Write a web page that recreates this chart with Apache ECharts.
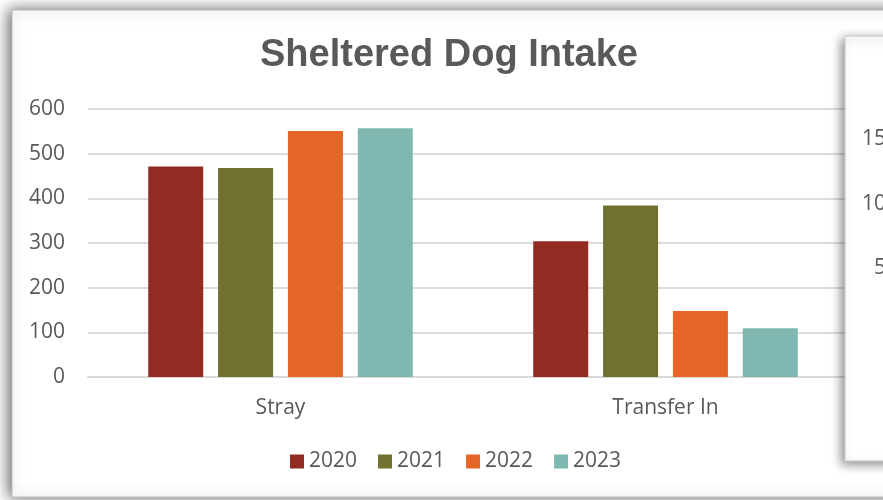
<!DOCTYPE html>
<html>
<head>
<meta charset="utf-8">
<script src="https://cdn.jsdelivr.net/npm/echarts@6/dist/echarts.min.js"></script>
<style>
  html, body { margin: 0; padding: 0; background: #fff; }
  #chart { width: 883px; height: 500px; }
</style>
</head>
<body>
<div id="chart"></div>
<script>
// data
const categories = ['Stray', 'Transfer In'];
const years = ['2020', '2021', '2022', '2023'];
const intake2020 = [471, 304];
const intake2021 = [468, 384];
const intake2022 = [551, 148];
const intake2023 = [557, 109];
const colors = ['#922B21', '#707030', '#E46525', '#7FB8B1'];

// right-hand (cut off) chart: only its value axis shows
const sideMax = 150;
const sideStep = 50;

const textGrey = '#595959';
const font = 'Open Sans';

const chart = echarts.init(document.getElementById('chart'));

const makeBar = (name, data, color) => ({
  name: name,
  type: 'bar',
  data: data,
  barWidth: 55,
  barGap: '27%',
  itemStyle: { color: color },
  xAxisIndex: 0,
  yAxisIndex: 0,
});

const option = {
  backgroundColor: '#fff',
  animation: false,
  title: {
    text: 'Sheltered Dog Intake',
    left: 260,
    top: 37,
    padding: 0,
    textStyle: {
      fontFamily: 'Liberation Sans',
      fontWeight: 'bold',
      fontSize: 38,
      color: textGrey,
    },
  },
  legend: {
    data: years,
    left: 290,
    top: 451,
    padding: 0,
    itemWidth: 14,
    itemHeight: 14,
    itemGap: 21,
    icon: 'rect',
    textStyle: { fontFamily: font, fontSize: 21, color: textGrey },
  },
  grid: [
    { left: 88, top: 109, width: 770, height: 268 },
    { left: 906, top: 139, width: 200, height: 194 },
  ],
  xAxis: [
    {
      type: 'category',
      gridIndex: 0,
      data: categories,
      axisLine: { show: true, lineStyle: { color: '#d9d9d9', width: 2 } },
      axisTick: { show: false },
      axisLabel: { margin: 21, fontFamily: font, fontSize: 21, color: textGrey },
    },
    {
      type: 'category',
      gridIndex: 1,
      data: [],
      show: false,
    },
  ],
  yAxis: [
    {
      type: 'value',
      gridIndex: 0,
      min: 0,
      max: 600,
      interval: 100,
      axisLine: { show: false },
      axisTick: { show: false },
      axisLabel: { margin: 23, fontFamily: font, fontSize: 21, color: textGrey },
      splitLine: { lineStyle: { color: '#dcdcdc', width: 2 } },
    },
    {
      type: 'value',
      gridIndex: 1,
      min: 0,
      max: sideMax,
      interval: sideStep,
      z: 20,
      axisLine: { show: false },
      axisTick: { show: false },
      axisLabel: { margin: 8, fontFamily: font, fontSize: 21, color: textGrey },
      splitLine: { show: false },
    },
  ],
  graphic: [
    {
      // main chart frame
      type: 'rect',
      z: -1,
      shape: { x: 12, y: 10, width: 900, height: 487 },
      style: {
        fill: '#fff',
        stroke: '#bdbdbd',
        lineWidth: 1,
        shadowBlur: 14,
        shadowColor: 'rgba(0,0,0,0.6)',
        shadowOffsetX: -3,
        shadowOffsetY: 0,
      },
    },
    {
      // second chart overlapping on the right
      type: 'rect',
      z: 10,
      shape: { x: 845, y: 36, width: 80, height: 425 },
      style: {
        fill: '#fff',
        stroke: '#c8c8c8',
        lineWidth: 1,
        shadowBlur: 10,
        shadowColor: 'rgba(0,0,0,0.45)',
        shadowOffsetX: -3,
        shadowOffsetY: 3,
      },
    },
  ],
  series: [
    makeBar(years[0], intake2020, colors[0]),
    makeBar(years[1], intake2021, colors[1]),
    makeBar(years[2], intake2022, colors[2]),
    makeBar(years[3], intake2023, colors[3]),
  ],
};

chart.setOption(option);
</script>
</body>
</html>
